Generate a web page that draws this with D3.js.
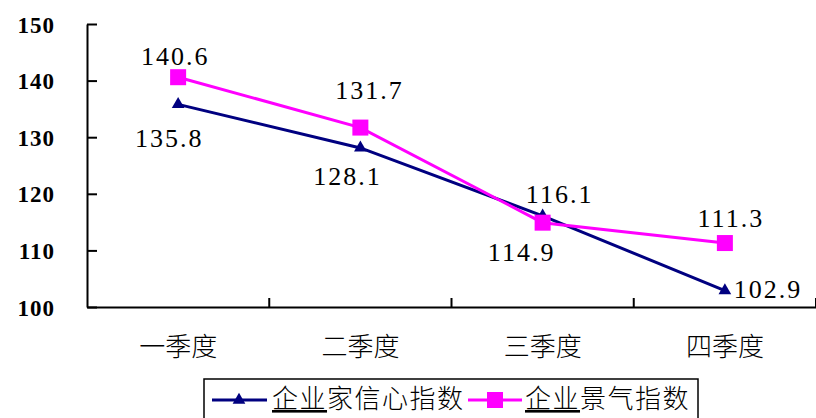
<!DOCTYPE html>
<html><head><meta charset="utf-8">
<script src="https://cdn.jsdelivr.net/npm/d3@7"></script>
<style>
html,body{margin:0;padding:0;background:#fff;}
svg{display:block;}
</style></head>
<body>
<svg id="chart" width="816" height="418"></svg>
<script>
const categories = ["一季度", "二季度", "三季度", "四季度"];
const seriesNames = ["企业家信心指数", "企业景气指数"];
const confidence = [135.8, 128.1, 116.1, 102.9];
const prosperity = [140.6, 131.7, 114.9, 111.3];
const yTicks = [100, 110, 120, 130, 140, 150];

// label placement offsets (dx, dy from point) — layout only
const confLabelOffsets = [[-9, 43], [-13, 37], [17, -13], [43, 7]];
const prosLabelOffsets = [[-3, -12], [9, -29], [-21, 38], [6, -16]];

(function () {
const svg = d3.select("#chart");
const mLeft = 87, mRight = 816, mTop = 24, mBottom = 307;
const numFont = "'Liberation Serif', 'Times New Roman', 'DejaVu Serif', serif";

const x = d3.scaleBand().domain(categories).range([mLeft, mRight]).padding(0);
const y = d3.scaleLinear().domain([100, 150]).range([mBottom, mTop]);
const cx = d => x(d) + x.bandwidth() / 2;

// y axis
const yAxis = d3.axisLeft(y).tickValues(yTicks).tickSize(-10).tickSizeOuter(0).tickFormat(d3.format("d"));
const yg = svg.append("g").attr("transform", `translate(${mLeft},0)`).call(yAxis);
yg.select(".domain").attr("stroke", "#000").attr("stroke-width", 2);
yg.selectAll(".tick line").attr("stroke", "#000").attr("stroke-width", 2);
yg.selectAll(".tick text")
  .attr("x", -32).attr("dy", "0.35em")
  .style("font-family", numFont)
  .style("font-size", "23px").style("font-weight", "bold")
  .style("letter-spacing", "1px")
  .attr("fill", "#000");

// x axis
const xAxis = d3.axisBottom(x).tickSize(0).tickSizeOuter(0);
const xg = svg.append("g").attr("transform", `translate(0,${mBottom})`).call(xAxis);
xg.select(".domain").attr("stroke", "#000").attr("stroke-width", 2);
xg.selectAll(".tick text")
  .attr("y", 49).attr("dy", "0")
  .style("font-family", "'Noto Sans CJK SC', sans-serif")
  .style("font-size", "26px").style("font-weight", 300)
  .attr("fill", "#000");
// boundary ticks between categories (inside)
const bounds = categories.map(c => x(c)).concat([mRight]).slice(1);
svg.append("g").selectAll("line").data(bounds).join("line")
  .attr("x1", d => d).attr("x2", d => d)
  .attr("y1", mBottom).attr("y2", mBottom - 9)
  .attr("stroke", "#000").attr("stroke-width", 2);

// lines
const line = d3.line().x((d, i) => cx(categories[i])).y(d => y(d));
svg.append("path").datum(confidence).attr("d", line)
  .attr("fill", "none").attr("stroke", "#000080").attr("stroke-width", 3);
svg.append("path").datum(prosperity).attr("d", line)
  .attr("fill", "none").attr("stroke", "#FF00FF").attr("stroke-width", 3);

// markers
const tri = d3.symbol().type(d3.symbolTriangle).size(70);
svg.append("g").selectAll("path").data(confidence).join("path")
  .attr("d", tri)
  .attr("transform", (d, i) => `translate(${cx(categories[i])},${y(d)})`)
  .attr("fill", "#000080");
svg.append("g").selectAll("rect").data(prosperity).join("rect")
  .attr("x", (d, i) => cx(categories[i]) - 8).attr("y", d => y(d) - 8)
  .attr("width", 16).attr("height", 16)
  .attr("fill", "#FF00FF");

// data labels
const fmt = d3.format(".1f");
function labels(data, offs) {
  svg.append("g").selectAll("text").data(data).join("text")
    .attr("x", (d, i) => cx(categories[i]) + offs[i][0])
    .attr("y", (d, i) => y(d) + offs[i][1])
    .attr("text-anchor", "middle")
    .style("font-family", numFont)
    .style("font-size", "26px")
    .style("letter-spacing", "2px")
    .attr("fill", "#000")
    .text(d => fmt(d));
}
labels(confidence, confLabelOffsets);
labels(prosperity, prosLabelOffsets);

// legend
const lg = svg.append("g");
lg.append("rect").attr("x", 204).attr("y", 379).attr("width", 494).attr("height", 50)
  .attr("fill", "#fff").attr("stroke", "#000").attr("stroke-width", 1.5);
const ly = 400;
lg.append("line").attr("x1", 212).attr("x2", 267).attr("y1", ly).attr("y2", ly)
  .attr("stroke", "#000080").attr("stroke-width", 3);
lg.append("path").attr("d", tri).attr("transform", `translate(239,${ly})`).attr("fill", "#000080");
lg.append("line").attr("x1", 468).attr("x2", 522).attr("y1", ly).attr("y2", ly)
  .attr("stroke", "#FF00FF").attr("stroke-width", 3);
lg.append("rect").attr("x", 487).attr("y", ly - 8).attr("width", 16).attr("height", 16).attr("fill", "#FF00FF");
function legendText(xPos, name) {
  const t = lg.append("text").attr("x", xPos).attr("y", 408)
    .style("font-family", "'Noto Sans CJK SC', sans-serif")
    .style("font-size", "26px").style("font-weight", 300).attr("fill", "#000")
    .style("letter-spacing", "1.5px");
  t.append("tspan").attr("text-decoration", "underline").text(name.slice(0, 2));
  t.append("tspan").text(name.slice(2));
}
legendText(272, seriesNames[0]);
legendText(525, seriesNames[1]);
})();
</script>
</body></html>
